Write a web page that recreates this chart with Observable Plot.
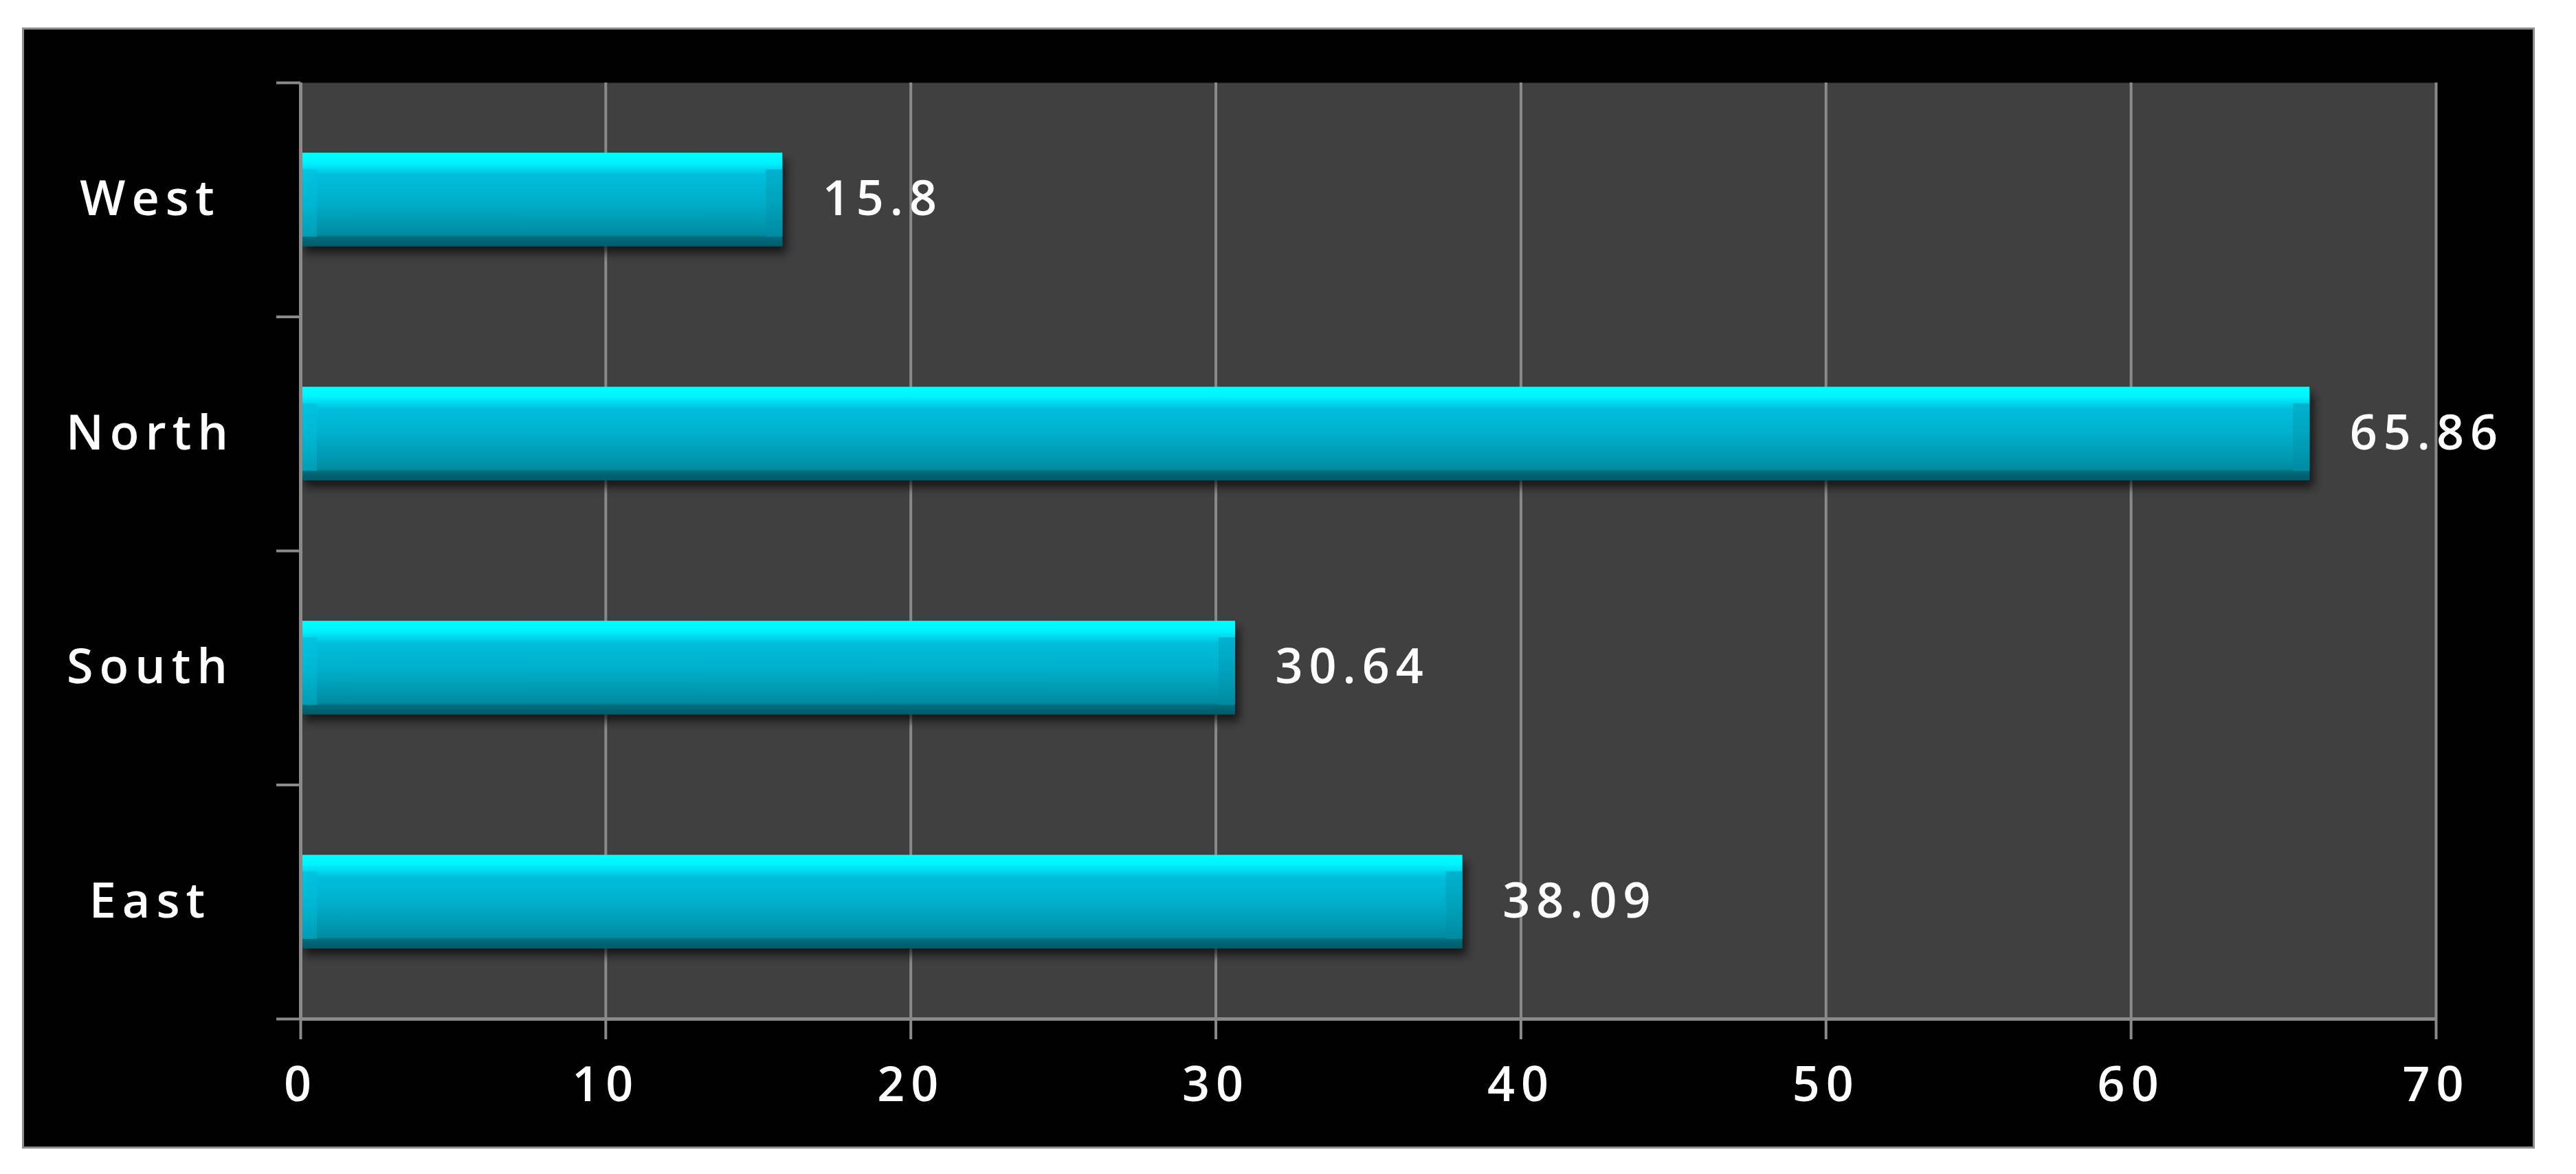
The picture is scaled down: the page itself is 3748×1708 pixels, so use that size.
<!DOCTYPE html>
<html><head><meta charset="utf-8">
<script src="https://cdn.jsdelivr.net/npm/d3@7"></script>
<script src="https://cdn.jsdelivr.net/npm/@observablehq/plot@0.6"></script>
<style>
html,body{margin:0;padding:0;background:#fff;}
#box{position:absolute;left:32px;top:40px;width:3650px;height:1625px;border:3px solid #8c8c8c;background:#000;}
#box svg{display:block;}
</style></head><body><div id="box"></div>
<script>
const regions = ["West", "North", "South", "East"];
const values = [15.8, 65.86, 30.64, 38.09];
const valueLabels = ["15.8", "65.86", "30.64", "38.09"];
const xTicks = [0, 10, 20, 30, 40, 50, 60, 70];

const data = regions.map((r, i) => ({region: r, value: values[i], label: valueLabels[i], i}));
const bounds = d3.range(regions.length + 1);
const centers = regions.map((_, i) => i + 0.5);
const GRAY = "#8a8a8a";
const BEVEL = 24;

const chart = Plot.plot({
  width: 3650, height: 1625,
  marginLeft: 402, marginTop: 77, marginRight: 141, marginBottom: 186,
  style: {background: "#000", color: "#fff", fontFamily: "'Open Sans', sans-serif", fontSize: "70px", fontWeight: 600, letterSpacing: "9px"},
  x: {domain: [0, 70], label: null},
  y: {domain: [regions.length, 0], label: null},
  marks: [
    Plot.frame({fill: "#404040", stroke: null}),
    Plot.ruleX(xTicks.slice(1), {stroke: GRAY, strokeWidth: 4}),
    Plot.rectX(data, {x1: 0, x2: "value", y1: d => d.i + 0.3, y2: d => d.i + 0.7, fill: "url(#barGrad)"}),
    Plot.rectX(data, {x1: 0, x2: 0, y1: d => d.i + 0.3, y2: d => d.i + 0.7, insetRight: -BEVEL, insetTop: 24, insetBottom: 14, fill: "url(#capLeft)"}),
    Plot.rectX(data, {x1: "value", x2: "value", y1: d => d.i + 0.3, y2: d => d.i + 0.7, insetLeft: -BEVEL, insetTop: 24, insetBottom: 14, fill: "url(#capRight)"}),
    Plot.ruleX([0], {stroke: GRAY, strokeWidth: 5}),
    Plot.ruleY([regions.length], {stroke: GRAY, strokeWidth: 5}),
    Plot.axisY(bounds, {tickSize: 35, tickFormat: () => "", stroke: GRAY, strokeWidth: 4}),
    Plot.axisY(centers, {tickSize: 0, tickPadding: 219, textAnchor: "middle", tickFormat: d => regions[Math.floor(d)], fill: "#fff"}),
    Plot.axisX(xTicks, {tickSize: 30, tickPadding: 40, stroke: GRAY, strokeWidth: 4, fill: "#fff"}),
    Plot.text(data, {x: "value", y: d => d.i + 0.5, text: "label", dx: 58, textAnchor: "start", fill: "#fff"})
  ]
});

const defs = d3.select(chart).insert("defs", ":first-child");
function grad(id, stops) {
  const g = defs.append("linearGradient").attr("id", id).attr("x1", 0).attr("y1", 0).attr("x2", 0).attr("y2", 1);
  stops.forEach(([o, c]) => g.append("stop").attr("offset", o).attr("stop-color", c));
}
grad("barGrad", [[0, "#00ffff"], [0.1, "#00f4ff"], [0.18, "#00d6ee"], [0.24, "#00bedb"], [0.5, "#00b0cc"], [0.78, "#0096ae"], [0.88, "#008a9e"], [0.9, "#006e7e"], [1, "#005a68"]]);
grad("capLeft", [[0, "#00c4e0"], [0.5, "#00b6d2"], [1, "#009cb4"]]);
grad("capRight", [[0, "#00b2ce"], [0.5, "#00a2bc"], [1, "#008aa0"]]);
const f = defs.append("filter").attr("id", "shadow").attr("x", "-5%").attr("y", "-30%").attr("width", "115%").attr("height", "170%");
f.append("feDropShadow").attr("dx", 6).attr("dy", 10).attr("stdDeviation", 7).attr("flood-color", "#000").attr("flood-opacity", 0.65);
d3.select(chart).select("g[fill='url(#barGrad)']").attr("filter", "url(#shadow)");

document.getElementById("box").appendChild(chart);
</script></body></html>
